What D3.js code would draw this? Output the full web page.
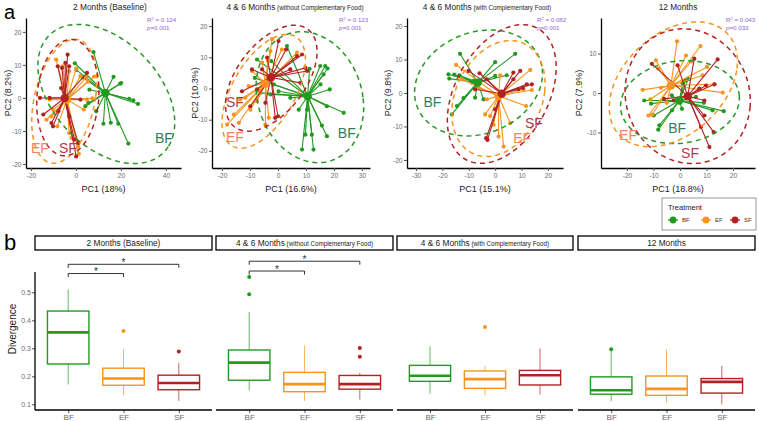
<!DOCTYPE html>
<html><head><meta charset="utf-8">
<script src="https://cdn.jsdelivr.net/npm/d3@7"></script>
<style>body{margin:0;background:#fff} text{font-family:"Liberation Sans",Arial,sans-serif}</style>
</head><body><svg id="c" width="759" height="421"></svg>
<script>
// ---------------- DATA ----------------
const groups = ["BF","EF","SF"];
const titleMain = ["2 Months (Baseline)","4 & 6 Months","4 & 6 Months","12 Months"];
const titleSub = ["","(without Complementary Food)","(with Complementary Food)",""];
const pc1Var = ["18%","16.6%","15.1%","18.8%"];
const pc2Var = ["8.2%","10.3%","9.8%","7.9%"];
const r2Vals = ["0.124","0.123","0.082","0.043"];
const pVals = ["0.001","0.001","0.001","0.033"];
const xDomains = [[-22.2,46.7],[-23.6,32.9],[-33.4,25.7],[-29.8,28.3]];
const yDomains = [[-21.2,24.2],[-25.5,22.6],[-22.4,22.4],[-19,19]];
const xTicks = [[-20,0,20,40],[-20,-10,0,10,20,30],[-30,-20,-10,0,10,20],[-20,-10,0,10,20]];
const yTicks = [[-20,-10,0,10,20],[-20,-10,0,10,20],[-20,-10,0,10,20],[-10,0,10]];

const pts_2m_BF = [[7.8,13.9],[16.7,6.4],[19.6,4.3],[20.1,4.5],[23.7,-0.3],[25.5,-0.7],[27.6,-1.8],[18.8,-7.8],[23.3,-13.8],[12.2,-7.8],[15.5,-7.5],[4.2,-2.5],[0.2,8.5],[3,6.2],[6,2.5],[-0.5,10.5],[9,-4],[5.5,-1.5]];
const pts_2m_EF = [[0.1,8.9],[2,6.6],[5.3,4.9],[8.1,6.5],[7.3,-0.1],[4.9,-0.5],[3.5,-3.5],[-1.9,-12.1],[1,-14.6],[1.3,-16.9],[-3,-10.6],[-8.3,-8.6],[-10.9,-5.6],[-13.1,-6.6],[-10.2,-3.5],[-11.7,-0.5],[-8.8,11.6],[-5.9,9.6],[-3,8.1],[4.5,6.3]];
const pts_2m_SF = [[-8.1,9.6],[-6.2,9.1],[-4.7,10.6],[-3.7,13.1],[-3,9.6],[-16,0],[-14.5,-5],[-10.9,-7.6],[-10.2,-8.6],[-7.8,-4],[1,-13.6],[0.1,-17.7],[-0.7,-12.6],[4.9,7.6],[2,-0.5],[-3,-5.6],[-6.6,3],[-11.7,0]];
const cen_2m = [[13.1,1.5],[-4,-0.5],[-5,0]];
const ell_2m = [[13.5,1.2,27.5,-16,-13,-13.7],[-5.2,-1,14,1.5,3.6,18.7],[-3.6,0.1,13.5,-2,3,17.5]];
const lab_2m = [[39.1,-12.1],[-16,-15.2],[-3.6,-15.2]];

const pts_46n_BF = [[3.2,13.6],[-2.4,8.8],[-7.5,9.3],[-8.3,3.4],[11.3,6.3],[15.1,7.2],[16.9,7.2],[17.7,6.4],[16.3,4.5],[15.2,1.3],[18.5,-0.3],[17.5,-5.7],[23.5,-7.8],[10.4,-6.8],[9.8,-14.8],[12.1,-14.8],[17.5,-15.3],[12.7,-19.6],[8.6,-19.6],[15.7,-11.9],[-1.5,1.3],[-2.7,-1.9],[4.4,-3],[0.2,-0.9],[-6.3,-1.4],[7.4,-6.8]];
const pts_46n_EF = [[-2.1,15.8],[-2.7,12],[-5.7,8.3],[-3.6,8.8],[-9.3,5.6],[-10.5,0.8],[-11.7,-3],[-13.5,-3.5],[-15.8,-8.4],[-18.2,-11.6],[-14,-11],[-3.3,-9.4],[-4.5,-11.6],[-9.9,-6.8],[-7.5,-4.1],[1.4,12.5],[6.8,11.5]];
const pts_46n_SF = [[0.2,15.2],[2.9,12.5],[6.8,10.4],[8.6,10.9],[9.8,6.6],[4.4,6.1],[-5.7,6.1],[-9.3,6.1],[-7.5,-0.3],[-12.9,-0.9],[-4.5,-4.6],[0,-8.9],[-1,-9.4],[-9.9,-5.7],[-3.9,9.9],[8,1.8],[10.4,5.6]];
const cen_46n = [[10.6,-2.5],[-4.5,1.5],[-2.5,3.5]];
const ell_46n = [[11.4,-2.8,19,0,-3,21],[-5.1,-0.9,9,-6.1,11.9,17.2],[-2.4,3.3,7.6,-9,14.5,14.4]];
const lab_46n = [[24.6,-14.2],[-15.4,-15.5],[-15.4,-4.2]];

const pts_46c_BF = [[-13.3,11.7],[0,9.2],[7.6,11.7],[-17.7,5.6],[-17.4,4.3],[-15.5,5.5],[-13.5,5.3],[-8.2,3.6],[-7.6,-1.4],[-4.4,-1.9],[-12,-1.5],[-14.5,-3.9],[-16.4,-6.4],[0,5.1],[4.4,5.3],[-6.9,2.1],[-8.8,3.1]];
const pts_46c_EF = [[-14.8,8.4],[1.9,5.3],[10.7,1.1],[13.3,6.9],[13.9,0.9],[11.7,-3.9],[-3.2,-1.9],[-3.8,-6.4],[-1.9,-6.9],[-0.6,-9.5],[3.2,-16],[1.3,-13],[5.7,-9],[-6.3,1.6],[-12.6,4.1]];
const pts_46c_SF = [[-10.1,6.6],[-5.9,5.9],[-3.2,4.1],[6.9,6.1],[9.5,6.6],[6.9,4.1],[8.8,1.1],[12,2.6],[13.9,2.6],[-3.4,-13.5],[-2.9,-14],[0,-4.9],[-7.6,1.1],[10.5,1.5]];
const cen_46c = [[-6.6,3.1],[1.3,-0.9],[2.5,-0.2]];
const ell_46c = [[-6.3,3,24,5,-3.4,15],[1.25,-1.65,17.5,2,2.5,17.2],[2.5,-0.3,20,3,5,20.5]];
const lab_46c = [[-23.8,-2.7],[10.2,-13.3],[14.7,-8.8]];

const pts_12m_BF = [[2,3.2],[3.1,3.5],[1,2.5],[-13.5,-1.9],[-10.9,-2.7],[-9.9,-5.7],[-8.2,-9.3],[-7.8,-8.2],[-3,-4.4],[6,-1],[16.5,-4.6],[12.3,-4.4],[-3.1,-0.6],[0.75,-4],[9,-2.5],[-1,-1.5]];
const pts_12m_EF = [[-1.1,13.1],[7.7,11.9],[-9.1,8.3],[2.3,9.5],[4.2,8],[-8.2,6.2],[-14.1,0.8],[-7.2,1.3],[16.1,0.1],[13,2.2],[-11.2,-1.6],[-11.9,-5.7],[10.2,6.6],[8.6,4.5],[-10.5,-5.5],[-5,-2.5]];
const pts_12m_SF = [[-10.6,7.4],[-0.9,7],[5.4,8.7],[14.2,8.5],[13,2.2],[9.8,1.9],[7.9,-8.6],[12.7,-9.9],[11.1,-13.7],[9.2,-5.7],[-2.4,-1.9],[7.3,1.1],[9.2,-1.9],[-6,-1.5]];
const cen_12m = [[-0.25,-1.9],[-3.4,1.9],[2.9,-0.8]];
const ell_12m = [[0,-2.3,22.4,1.5,-1,10.4],[-2.5,2.2,24,4,3,15.3],[2.9,-0.8,23.5,-3,2.5,16.8]];
const lab_12m = [[-1.1,-8.9],[-19.6,-10.6],[3.8,-15.2]];

// boxplot stats: [lower whisker, Q1, median, Q3, upper whisker] for BF, EF, SF
const box_2m = [[0.171,0.244,0.357,0.433,0.51],[0.132,0.168,0.192,0.229,0.296],[0.112,0.152,0.176,0.204,0.248]];
const out_2m = [[],[0.362],[0.289]];
const box_46n = [[0.15,0.186,0.249,0.294,0.43],[0.112,0.145,0.172,0.214,0.31],[0.117,0.154,0.172,0.203,0.212]];
const out_46n = [[0.555,0.493],[],[0.301,0.27]];
const box_46c = [[0.138,0.182,0.202,0.239,0.307],[0.132,0.157,0.19,0.219,0.237],[0.135,0.169,0.204,0.221,0.299]];
const out_46c = [[],[0.376],[]];
const box_12m = [[0.111,0.136,0.15,0.198,0.29],[0.106,0.132,0.155,0.201,0.295],[0.1,0.14,0.18,0.192,0.237]];
const out_12m = [[0.297],[],[]];
const divTicks = [0.1,0.2,0.3,0.4,0.5];
// significance brackets: [group index a, group index b, y position, label]
const sig_2m = [[0,2,0.600,"*"],[0,1,0.567,"*"]];
const sig_46n = [[0,2,0.611,"*"],[0,1,0.576,"*"]];

// ---------------- STYLE / LAYOUT ----------------
const markColors = ["#229A22","#F7931E","#B22222"];
const labelColors = ["#2E7F62","#F4845F","#B23A4E"];
const svg = d3.select("#c");
const FONT = '"Liberation Sans",Arial,sans-serif';

const scatterX = [[26,181],[212,370],[407,563],[601,755]];
const sTop = 18, sBot = 168;
const titleCx = [110,295,487,678];
const pc2X = [8,195,388,579];
const statX = [147,339,537,726];

const scatterPts = [[pts_2m_BF,pts_2m_EF,pts_2m_SF],[pts_46n_BF,pts_46n_EF,pts_46n_SF],[pts_46c_BF,pts_46c_EF,pts_46c_SF],[pts_12m_BF,pts_12m_EF,pts_12m_SF]];
const cens = [cen_2m,cen_46n,cen_46c,cen_12m];
const ells = [ell_2m,ell_46n,ell_46c,ell_12m];
const labs = [lab_2m,lab_46n,lab_46c,lab_12m];

function styleAxis(g){
  g.select(".domain").attr("stroke","#000").attr("stroke-width",1.3);
  g.selectAll(".tick line").attr("stroke","#555");
  g.selectAll(".tick text").attr("fill","#6b6b6b").style("font-family",FONT);
}

scatterX.forEach((xr,i)=>{
  const x = d3.scaleLinear().domain(xDomains[i]).range(xr);
  const y = d3.scaleLinear().domain(yDomains[i]).range([sBot,sTop]);
  const g = svg.append("g");
  groups.forEach((gr,k)=>{
    const c = cens[i][k];
    g.append("g").selectAll("line").data(scatterPts[i][k]).join("line")
      .attr("x1",x(c[0])).attr("y1",y(c[1]))
      .attr("x2",d=>x(d[0])).attr("y2",d=>y(d[1]))
      .attr("stroke",markColors[k]).attr("stroke-width",1.1);
    g.append("g").selectAll("circle").data(scatterPts[i][k]).join("circle")
      .attr("cx",d=>x(d[0])).attr("cy",d=>y(d[1])).attr("r",2.1)
      .attr("fill",markColors[k]);
  });
  groups.forEach((gr,k)=>{
    const c = cens[i][k];
    g.append("circle").attr("cx",x(c[0])).attr("cy",y(c[1])).attr("r",4.2).attr("fill",markColors[k]);
  });
  groups.forEach((gr,k)=>{
    const e = ells[i][k];
    const ts = d3.range(0,100).map(j=>j/100*2*Math.PI);
    const pts = ts.map(t=>[x(e[0]+e[2]*Math.cos(t)+e[4]*Math.sin(t)), y(e[1]+e[3]*Math.cos(t)+e[5]*Math.sin(t))]);
    g.append("path").attr("d",d3.line().curve(d3.curveLinearClosed)(pts))
      .attr("fill","none").attr("stroke",markColors[k]).attr("stroke-width",1.5)
      .attr("stroke-dasharray","5,4");
  });
  groups.forEach((gr,k)=>{
    const p = labs[i][k];
    g.append("text").attr("x",x(p[0])).attr("y",y(p[1])).attr("dy","0.36em")
      .attr("text-anchor","middle").attr("font-size",14).attr("fill",labelColors[k]).text(gr);
  });
  const gx = svg.append("g").attr("transform",`translate(0,${sBot})`)
    .call(d3.axisBottom(x).tickValues(xTicks[i]).tickSize(3).tickSizeOuter(0).tickPadding(2).tickFormat(d=>String(d)));
  gx.attr("font-size",6.6); styleAxis(gx);
  const gy = svg.append("g").attr("transform",`translate(${xr[0]},0)`)
    .call(d3.axisLeft(y).tickValues(yTicks[i]).tickSize(3).tickSizeOuter(0).tickPadding(1.5).tickFormat(d=>String(d)));
  gy.attr("font-size",6.6); styleAxis(gy);
  const t = svg.append("text").attr("x",titleCx[i]).attr("y",10).attr("text-anchor","middle").attr("fill","#222");
  t.append("tspan").attr("font-size",8.3).text(titleMain[i]);
  if (titleSub[i]) t.append("tspan").attr("font-size",6.3).text(" "+titleSub[i]);
  svg.append("text").attr("x",(xr[0]+xr[1])/2).attr("y",192).attr("text-anchor","middle")
    .attr("font-size",9).attr("fill","#222").text(`PC1 (${pc1Var[i]})`);
  svg.append("text").attr("transform",`translate(${pc2X[i]},93) rotate(-90)`).attr("dy","0.35em")
    .attr("text-anchor","middle").attr("font-size",9).attr("fill","#222").text(`PC2 (${pc2Var[i]})`);
  const st = svg.append("g").attr("fill","#9966CC").attr("font-size",6.2);
  const r = st.append("text").attr("x",statX[i]).attr("y",22);
  r.append("tspan").text("R");
  r.append("tspan").attr("font-size",4).attr("dy",-2.5).text("2");
  r.append("tspan").attr("dy",2.5).text(" = "+r2Vals[i]);
  const pp = st.append("text").attr("x",statX[i]).attr("y",30);
  pp.append("tspan").attr("font-style","italic").text("p");
  pp.append("tspan").text("="+pVals[i]);
});

svg.append("text").attr("x",4).attr("y",19).attr("font-size",20).attr("fill","#000").text("a");
svg.append("text").attr("x",4).attr("y",250).attr("font-size",22).attr("fill","#000").text("b");

// legend
const lg = svg.append("g");
lg.append("rect").attr("x",662).attr("y",198).attr("width",94).attr("height",32).attr("fill","#fff").attr("stroke","#999").attr("stroke-width",1);
lg.append("text").attr("x",668).attr("y",210).attr("font-size",7.5).attr("fill","#222").text("Treatment");
const legX = [673,706,735];
groups.forEach((gr,k)=>{
  lg.append("line").attr("x1",legX[k]-5).attr("x2",legX[k]+5).attr("y1",220).attr("y2",220).attr("stroke",markColors[k]).attr("stroke-width",1.3);
  lg.append("circle").attr("cx",legX[k]).attr("cy",220).attr("r",3.4).attr("fill",markColors[k]);
  lg.append("text").attr("x",legX[k]+9).attr("y",222.3).attr("font-size",6).attr("fill","#333").text(gr);
});

// ---------------- PANEL B ----------------
const facetX = [[35,212],[216,393],[397,573],[578,755]];
const boxes = [box_2m,box_46n,box_46c,box_12m];
const outs = [out_2m,out_46n,out_46c,out_12m];
const sigs = [sig_2m,sig_46n,[],[]];
const yB = d3.scaleLinear().domain([0.1,0.5]).range([404.3,292.3]);
const bBot = 410, axTop = 272;

facetX.forEach((fr,i)=>{
  const xb = d3.scalePoint().domain(groups).range(fr).padding(0.6);
  const bw = xb.step()*0.75;
  svg.append("rect").attr("x",fr[0]).attr("y",236).attr("width",fr[1]-fr[0]).attr("height",14)
    .attr("fill","#fff").attr("stroke","#000").attr("stroke-width",1.3);
  const t = svg.append("text").attr("x",(fr[0]+fr[1])/2).attr("y",246).attr("text-anchor","middle").attr("fill","#222");
  t.append("tspan").attr("font-size",8.3).text(titleMain[i]);
  if (titleSub[i]) t.append("tspan").attr("font-size",6.3).text(" "+titleSub[i]);
  const g = svg.append("g");
  groups.forEach((gr,k)=>{
    const s = boxes[i][k], cx = xb(gr), col = markColors[k];
    g.append("line").attr("x1",cx).attr("x2",cx).attr("y1",yB(s[0])).attr("y2",yB(s[1])).attr("stroke",col).attr("stroke-width",1).attr("stroke-opacity",0.7);
    g.append("line").attr("x1",cx).attr("x2",cx).attr("y1",yB(s[3])).attr("y2",yB(s[4])).attr("stroke",col).attr("stroke-width",1).attr("stroke-opacity",0.7);
    g.append("rect").attr("x",cx-bw/2).attr("width",bw).attr("y",yB(s[3])).attr("height",yB(s[1])-yB(s[3]))
      .attr("fill","#fff").attr("stroke",col).attr("stroke-width",1.4);
    g.append("line").attr("x1",cx-bw/2).attr("x2",cx+bw/2).attr("y1",yB(s[2])).attr("y2",yB(s[2])).attr("stroke",col).attr("stroke-width",2.6);
    g.selectAll(null).data(outs[i][k]).join("circle").attr("cx",cx).attr("cy",d=>yB(d)).attr("r",2).attr("fill",col);
  });
  sigs[i].forEach(sg=>{
    const x1 = xb(groups[sg[0]]), x2 = xb(groups[sg[1]]), yy = yB(sg[2]);
    g.append("path").attr("d",`M${x1},${yy+3.5}L${x1},${yy}L${x2},${yy}L${x2},${yy+3.5}`)
      .attr("fill","none").attr("stroke","#333").attr("stroke-width",1);
    g.append("text").attr("x",(x1+x2)/2).attr("y",yy+1.5).attr("text-anchor","middle").attr("font-size",10).attr("fill","#333").text(sg[3]);
  });
  const gx = svg.append("g").attr("transform",`translate(0,${bBot})`)
    .call(d3.axisBottom(xb).tickSize(3).tickSizeOuter(0).tickPadding(1));
  gx.select(".domain").remove();
  gx.append("line").attr("x1",fr[0]).attr("x2",fr[1]).attr("stroke","#000").attr("stroke-width",1.3);
  gx.attr("font-size",8); styleAxis(gx);
});
const gyB = svg.append("g").attr("transform","translate(35,0)")
  .call(d3.axisLeft(yB).tickValues(divTicks).tickSize(3).tickPadding(1).tickFormat(d3.format(".1f")));
gyB.select(".domain").remove();
gyB.append("line").attr("y1",axTop).attr("y2",bBot).attr("stroke","#000").attr("stroke-width",1.3);
gyB.attr("font-size",7); styleAxis(gyB);
svg.append("text").attr("transform","translate(12,329) rotate(-90)").attr("dy","0.35em")
  .attr("text-anchor","middle").attr("font-size",10).attr("fill","#222").text("Divergence");
</script></body></html>
